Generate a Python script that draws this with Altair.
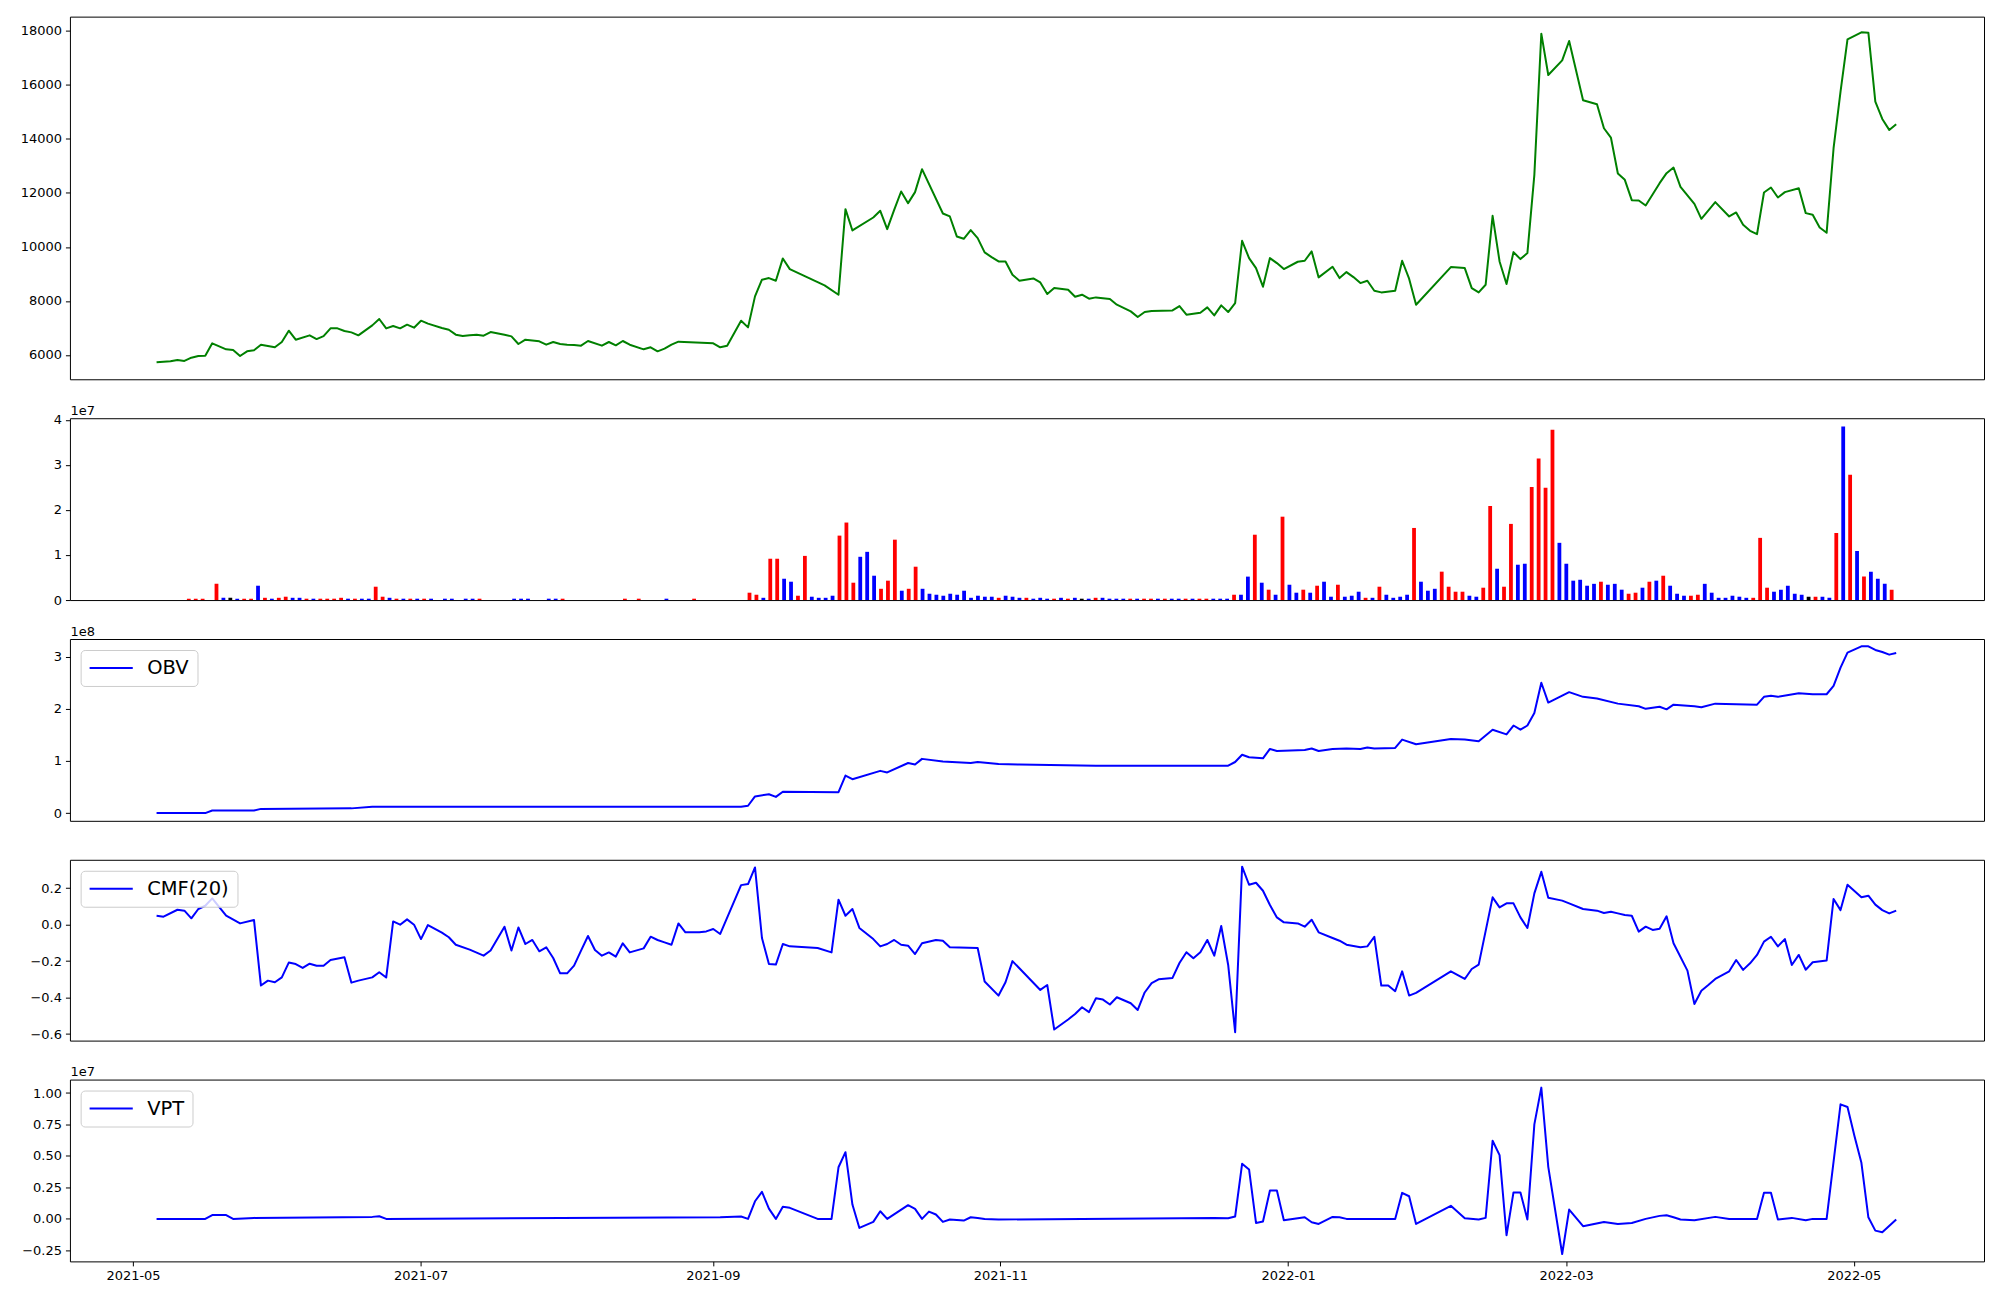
import altair as alt
import pandas as pd

# ---------------- data ----------------
N_SESSIONS = 251
dates = pd.date_range("2021-05-06", "2022-05-10", periods=N_SESSIONS)

# close price (session index, value)
price_points = [
    (0, 5730), (2, 5766), (3, 5815), (4, 5780), (5, 5900), (6, 5963), (7, 5975), (8, 6432),
    (10, 6210), (11, 6185), (12, 5963), (13, 6136), (14, 6173), (15, 6382), (17, 6284),
    (18, 6481), (19, 6900), (20, 6567), (22, 6727), (23, 6590), (24, 6700), (25, 6986),
    (26, 6986), (27, 6888), (28, 6838), (29, 6727), (31, 7097), (32, 7332), (33, 6986),
    (34, 7073), (35, 6986), (36, 7122), (37, 7011), (38, 7270), (39, 7160), (41, 6999),
    (42, 6937), (43, 6752), (44, 6703), (45, 6727), (46, 6752), (47, 6715), (48, 6850),
    (50, 6752), (51, 6690), (52, 6407), (53, 6567), (55, 6506), (56, 6382), (57, 6481),
    (58, 6407), (59, 6382), (60, 6370), (61, 6345), (62, 6518), (64, 6345), (65, 6481),
    (66, 6358), (67, 6518), (68, 6382), (70, 6210), (71, 6284), (72, 6136), (73, 6234),
    (74, 6382), (75, 6493), (80, 6432), (81, 6284), (82, 6345), (84, 7270), (85, 7023),
    (86, 8170), (87, 8787), (88, 8848), (89, 8750), (90, 9576), (91, 9181), (96, 8577),
    (98, 8232), (99, 11400), (100, 10611), (103, 11092), (104, 11339), (105, 10661),
    (106, 11376), (107, 12054), (108, 11623), (109, 12030), (110, 12880), (113, 11240),
    (114, 11130), (115, 10390), (116, 10303), (117, 10624), (118, 10328), (119, 9798),
    (120, 9625), (121, 9465), (122, 9465), (123, 8972), (124, 8750), (126, 8836),
    (127, 8688), (128, 8256), (129, 8478), (131, 8417), (132, 8158), (133, 8232),
    (134, 8084), (135, 8133), (137, 8071), (138, 7862), (140, 7615), (141, 7406),
    (142, 7591), (143, 7628), (146, 7652), (147, 7812), (148, 7492), (150, 7566),
    (151, 7763), (152, 7467), (153, 7837), (154, 7591), (155, 7924), (156, 10229),
    (157, 9588), (158, 9218), (159, 8528), (160, 9588), (161, 9403), (162, 9181),
    (164, 9453), (165, 9490), (166, 9835), (167, 8873), (169, 9267), (170, 8848),
    (171, 9070), (172, 8885), (173, 8663), (174, 8750), (175, 8380), (176, 8318),
    (178, 8380), (179, 9490), (180, 8824), (181, 7862), (186, 9255), (188, 9218),
    (189, 8478), (190, 8318), (191, 8602), (192, 11154), (193, 9465), (194, 8626),
    (195, 9810), (196, 9551), (197, 9773), (198, 12671), (199, 17898), (200, 16369),
    (202, 16911), (203, 17627), (205, 15432), (207, 15284), (208, 14397), (209, 14052),
    (210, 12720), (211, 12486), (212, 11733), (213, 11721), (214, 11536), (216, 12362),
    (217, 12732), (218, 12942), (219, 12227), (221, 11598), (222, 11043), (224, 11660),
    (226, 11129), (227, 11277), (228, 10821), (229, 10599), (230, 10475), (231, 12017),
    (232, 12202), (233, 11832), (234, 12030), (236, 12177), (237, 11253), (238, 11191),
    (239, 10722), (240, 10525), (241, 13657), (242, 15753), (243, 17688), (245, 17947),
    (246, 17935), (247, 15383), (248, 14742), (249, 14335), (250, 14544),
]

# volume in units of 1e7 (session index, value); r = up, b = down, k = unchanged
vol_idx_sparse = [4, 5, 6, 8, 9, 10, 11, 12, 13, 14,
                  15, 16, 17, 18, 19, 20, 21, 22, 23, 24,
                  25, 26, 27, 28, 29, 30, 31, 32, 33, 34,
                  35, 36, 37, 38, 39, 41, 42, 44, 45, 46,
                  51, 52, 53, 56, 57, 58, 67, 69, 73, 77]
vol_val_sparse = [0.03, 0.03, 0.03, 0.36, 0.05, 0.05, 0.03, 0.03, 0.03, 0.318,
                  0.05, 0.03, 0.05, 0.074, 0.05, 0.05, 0.03, 0.03, 0.03, 0.03,
                  0.03, 0.05, 0.03, 0.03, 0.03, 0.03, 0.296, 0.074, 0.05, 0.03,
                  0.03, 0.03, 0.03, 0.03, 0.03, 0.03, 0.03, 0.03, 0.03, 0.03,
                  0.03, 0.03, 0.03, 0.03, 0.03, 0.03, 0.03, 0.03, 0.03, 0.03]
vol_dir_sparse = "rrrrbkbrrb" "rbrrbbrbrr" "rrbrbbrrbr" "brbrbbbbbr" "bbbbbrrrbr"

vol_first_dense = 85
vol_val_dense = [
    0.163, 0.118, 0.05, 0.917, 0.917, 0.473, 0.407, 0.096, 0.98, 0.074,   # 85
    0.05, 0.05, 0.096, 1.43, 1.72, 0.385, 0.96, 1.07, 0.54, 0.25,         # 95
    0.43, 1.34, 0.207, 0.25, 0.74, 0.25, 0.14, 0.118, 0.096, 0.14,        # 105
    0.118, 0.207, 0.05, 0.096, 0.074, 0.074, 0.05, 0.096, 0.074, 0.05,    # 115
    0.05, 0.03, 0.05, 0.03, 0.03, 0.05, 0.03, 0.05, 0.03, 0.03,           # 125
    0.05, 0.05, 0.03, 0.03, 0.03, 0.03, 0.03, 0.03, 0.03, 0.03,           # 135
    0.03, 0.03, 0.03, 0.03, 0.03, 0.03, 0.03, 0.03, 0.03, 0.03,           # 145
    0.118, 0.118, 0.52, 1.45, 0.385, 0.23, 0.118, 1.85, 0.34, 0.163,      # 155
    0.23, 0.163, 0.318, 0.407, 0.074, 0.34, 0.074, 0.096, 0.185, 0.05,    # 165
    0.05, 0.296, 0.118, 0.05, 0.074, 0.118, 1.6, 0.407, 0.207, 0.25,      # 175
    0.63, 0.296, 0.185, 0.185, 0.096, 0.074, 0.274, 2.09, 0.695, 0.296,   # 185
    1.69, 0.784, 0.806, 2.51, 3.14, 2.49, 3.78, 1.27, 0.806, 0.43,        # 195
    0.45, 0.318, 0.36, 0.407, 0.34, 0.36, 0.23, 0.14, 0.163, 0.274,       # 205
    0.407, 0.43, 0.54, 0.318, 0.14, 0.096, 0.096, 0.118, 0.36, 0.163,     # 215
    0.05, 0.05, 0.096, 0.074, 0.05, 0.05, 1.38, 0.274, 0.185, 0.23,       # 225
    0.318, 0.14, 0.118, 0.074, 0.074, 0.074, 0.05, 1.49, 3.85, 2.78,      # 235
    1.09, 0.52, 0.63, 0.473, 0.36, 0.23,                                  # 245
]
vol_dir_dense = ("rrbrrbbrrb" "bbbrrrbbbr" "rrbrrbbbbb" "bbbbbbrbbb" "rbbbrbrbkb"
                 "rbbbbrbrrb" "rbbrbrrbbb" "rbbrbrbrbb" "rbrbbrbbbr" "brbbbbrbbb"
                 "rrrrbbrrbr" "rbbrrrrbbb" "bbbrbbbrrb" "rbrbbbrrbb" "bbbbbrrrbb"
                 "bbbkrbbrbr" "brbbbr")

# On-balance volume in units of 1e8
obv_points = [
    (0, 0.0), (7, 0.0), (8, 0.05), (14, 0.05), (15, 0.08), (28, 0.09), (31, 0.12), (84, 0.12),
    (85, 0.14), (86, 0.32), (88, 0.36), (89, 0.31), (90, 0.41), (98, 0.40), (99, 0.72),
    (100, 0.65), (104, 0.81), (105, 0.78), (108, 0.96), (109, 0.93), (110, 1.04), (113, 0.99),
    (117, 0.96), (118, 0.98), (121, 0.94), (124, 0.93), (135, 0.91), (154, 0.91), (155, 0.98),
    (156, 1.12), (157, 1.07), (159, 1.05), (160, 1.23), (161, 1.19), (165, 1.21), (166, 1.24),
    (167, 1.19), (169, 1.23), (171, 1.24), (173, 1.23), (174, 1.26), (175, 1.24), (178, 1.25),
    (179, 1.41), (181, 1.32), (186, 1.42), (188, 1.41), (190, 1.38), (192, 1.60), (194, 1.51),
    (195, 1.68), (196, 1.60), (197, 1.68), (198, 1.92), (199, 2.50), (200, 2.12), (203, 2.32),
    (205, 2.23), (207, 2.20), (210, 2.10), (213, 2.05), (214, 2.00), (216, 2.04), (217, 1.99),
    (218, 2.08), (221, 2.05), (222, 2.03), (224, 2.10), (227, 2.09), (230, 2.08), (231, 2.23),
    (232, 2.25), (233, 2.23), (236, 2.30), (238, 2.28), (240, 2.28), (241, 2.44), (242, 2.79),
    (243, 3.08), (245, 3.20), (246, 3.20), (247, 3.13), (248, 3.09), (249, 3.04), (250, 3.07),
]

# Chaikin money flow (20)
cmf_points = [
    (0, 0.049), (1, 0.044), (3, 0.082), (4, 0.077), (5, 0.035), (6, 0.086), (7, 0.104),
    (8, 0.144), (10, 0.049), (12, 0.007), (14, 0.026), (15, -0.334), (16, -0.307),
    (17, -0.316), (18, -0.289), (19, -0.208), (20, -0.216), (21, -0.237), (22, -0.214),
    (23, -0.225), (24, -0.225), (25, -0.194), (27, -0.179), (28, -0.318), (29, -0.307),
    (31, -0.289), (32, -0.261), (33, -0.29), (34, 0.018), (35, 0.0), (36, 0.029), (37, 0.0),
    (38, -0.079), (39, -0.002), (41, -0.044), (42, -0.069), (43, -0.11), (45, -0.137),
    (47, -0.17), (48, -0.142), (50, -0.011), (51, -0.142), (52, -0.015), (53, -0.106),
    (54, -0.084), (55, -0.146), (56, -0.124), (57, -0.183), (58, -0.267), (59, -0.267),
    (60, -0.225), (61, -0.142), (62, -0.062), (63, -0.139), (64, -0.17), (65, -0.152),
    (66, -0.175), (67, -0.102), (68, -0.152), (70, -0.13), (71, -0.066), (72, -0.084),
    (73, -0.097), (74, -0.11), (75, 0.007), (76, -0.042), (78, -0.042), (79, -0.037),
    (80, -0.024), (81, -0.051), (84, 0.217), (85, 0.223), (86, 0.314), (87, -0.073),
    (88, -0.216), (89, -0.219), (90, -0.106), (91, -0.119), (95, -0.128), (97, -0.152),
    (98, 0.137), (99, 0.049), (100, 0.086), (101, -0.018), (103, -0.079), (104, -0.119),
    (105, -0.106), (106, -0.084), (107, -0.11), (108, -0.115), (109, -0.161), (110, -0.102),
    (112, -0.084), (113, -0.088), (114, -0.124), (118, -0.128), (119, -0.312), (121, -0.389),
    (122, -0.316), (123, -0.2), (127, -0.358), (128, -0.331), (129, -0.575), (131, -0.52),
    (132, -0.49), (133, -0.453), (134, -0.48), (135, -0.404), (136, -0.411), (137, -0.438),
    (138, -0.398), (140, -0.431), (141, -0.468), (142, -0.372), (143, -0.321), (144, -0.3),
    (146, -0.292), (147, -0.21), (148, -0.151), (149, -0.184), (150, -0.151), (151, -0.084),
    (152, -0.17), (153, -0.007), (154, -0.221), (155, -0.59), (156, 0.318), (157, 0.219),
    (158, 0.23), (159, 0.186), (160, 0.108), (161, 0.04), (162, 0.013), (164, 0.007),
    (165, -0.011), (166, 0.027), (167, -0.042), (169, -0.073), (170, -0.088), (171, -0.11),
    (173, -0.124), (174, -0.119), (175, -0.066), (176, -0.334), (177, -0.334), (178, -0.365),
    (179, -0.256), (180, -0.389), (181, -0.374), (186, -0.256), (188, -0.298), (189, -0.243),
    (190, -0.219), (192, 0.15), (193, 0.095), (194, 0.117), (195, 0.117), (196, 0.04),
    (197, -0.018), (198, 0.172), (199, 0.29), (200, 0.148), (202, 0.132), (203, 0.117),
    (205, 0.086), (207, 0.077), (208, 0.064), (209, 0.071), (210, 0.062), (211, 0.053),
    (212, 0.049), (213, -0.038), (214, -0.011), (215, -0.029), (216, -0.022), (217, 0.046),
    (218, -0.102), (220, -0.252), (221, -0.435), (222, -0.362), (223, -0.331), (224, -0.298),
    (226, -0.256), (227, -0.194), (228, -0.248), (229, -0.212), (230, -0.166), (231, -0.093),
    (232, -0.066), (233, -0.119), (234, -0.079), (235, -0.221), (236, -0.166), (237, -0.247),
    (238, -0.206), (240, -0.197), (241, 0.141), (242, 0.08), (243, 0.219), (245, 0.15),
    (246, 0.159), (247, 0.11), (248, 0.08), (249, 0.062), (250, 0.077),
]

# Volume price trend in units of 1e7
vpt_points = [
    (0, 0.0), (7, 0.0), (8, 0.03), (10, 0.03), (11, 0.0), (14, 0.008), (31, 0.016), (32, 0.021),
    (33, 0.0), (81, 0.013), (84, 0.019), (85, 0.0), (86, 0.14), (87, 0.215), (88, 0.082),
    (89, 0.0), (90, 0.096), (91, 0.088), (95, 0.0), (97, 0.0), (98, 0.41), (99, 0.53),
    (100, 0.114), (101, -0.072), (103, -0.024), (104, 0.061), (105, 0.0), (108, 0.109),
    (109, 0.08), (110, 0.0), (111, 0.058), (112, 0.035), (113, -0.024), (114, -0.005),
    (116, -0.013), (117, 0.013), (118, 0.008), (119, 0.0), (121, -0.005), (152, 0.008),
    (154, 0.005), (155, 0.019), (156, 0.438), (157, 0.393), (158, -0.032), (159, -0.021),
    (160, 0.226), (161, 0.226), (162, -0.011), (165, 0.013), (166, -0.027), (167, -0.04),
    (169, 0.016), (170, 0.013), (171, 0.0), (175, 0.0), (178, 0.0), (179, 0.207), (180, 0.18),
    (181, -0.04), (186, 0.104), (188, 0.005), (190, -0.005), (191, 0.008), (192, 0.621),
    (193, 0.507), (194, -0.13), (195, 0.21), (196, 0.21), (197, -0.005), (198, 0.751),
    (199, 1.043), (200, 0.414), (202, -0.279), (203, 0.074), (205, -0.058), (208, -0.024),
    (210, -0.04), (212, -0.032), (214, 0.0), (216, 0.024), (217, 0.029), (218, 0.013),
    (219, -0.005), (221, -0.011), (224, 0.016), (226, 0.0), (230, 0.0), (231, 0.207),
    (232, 0.207), (233, -0.005), (235, 0.008), (237, -0.011), (238, 0.0), (240, 0.0),
    (242, 0.91), (243, 0.889), (244, 0.658), (245, 0.446), (246, 0.013), (247, -0.093),
    (248, -0.106), (250, -0.005),
]

month_ticks = [(2021, 5), (2021, 7), (2021, 9), (2021, 11), (2022, 1), (2022, 3), (2022, 5)]

# ---------------- tables ----------------
def line_df(points, name):
    idx = [p[0] for p in points]
    return pd.DataFrame({"date": dates[idx], "value": [p[1] for p in points], "series": name})

price_df = line_df(price_points, "Close")
obv_df = line_df(obv_points, "OBV")
cmf_df = line_df(cmf_points, "CMF(20)")
vpt_df = line_df(vpt_points, "VPT")

vol_idx = vol_idx_sparse + list(range(vol_first_dense, vol_first_dense + len(vol_val_dense)))
vol_df = pd.DataFrame({
    "date": dates[vol_idx],
    "value": vol_val_sparse + vol_val_dense,
    "dir": list(vol_dir_sparse) + list(vol_dir_dense),
})

# ---------------- styling ----------------
FONT = "DejaVu Sans"
GREEN, BLUE, RED = "#008000", "#0000ff", "#ff0000"
W = 1916
X_DOMAIN = [alt.DateTime(year=2021, month=4, date=17, hours=15),
            alt.DateTime(year=2022, month=5, date=28, hours=15)]


def x_enc(show):
    if show:
        ax = alt.Axis(values=[alt.DateTime(year=y, month=m, date=1) for y, m in month_ticks],
                      format="%Y-%m", title="", grid=False, domain=False, tickSize=4.5,
                      tickWidth=1, tickColor="black", labelFont=FONT, labelFontSize=13,
                      labelColor="black", labelPadding=4, labelFlush=False, labelOverlap=False)
        return alt.X("date:T", scale=alt.Scale(domain=X_DOMAIN), axis=ax)
    return alt.X("date:T", scale=alt.Scale(domain=X_DOMAIN), axis=None)


def y_axis(values, fmt, offset_text=""):
    kw = dict(values=values, format=fmt, title=offset_text, grid=False, domain=False,
              tickSize=4.5, tickWidth=1, tickColor="black", labelFont=FONT, labelFontSize=13,
              labelColor="black", labelPadding=4)
    if offset_text:
        kw.update(titleAngle=0, titleX=0, titleY=-4, titleAlign="left",
                  titleBaseline="alphabetic", titleFont=FONT, titleFontSize=13,
                  titleFontWeight="normal", titleColor="black")
    return alt.Axis(**kw)


def legend():
    # a wide, flat line sample drawn from a small nominal symbol size so the box stays short
    return alt.Legend(orient="none", legendX=10.7, legendY=11, title=None,
                      symbolType="M-2.4,0H2.4", symbolSize=324, symbolStrokeWidth=2,
                      symbolFillColor="transparent", symbolOffset=12.6,
                      labelFont=FONT, labelFontSize=19.5, labelColor="black",
                      labelOffset=26, padding=8, fillColor="rgba(255,255,255,0.8)",
                      strokeColor="#cccccc", cornerRadius=4)


def color_enc(name):
    return alt.Color("series:N", scale=alt.Scale(domain=[name], range=[BLUE]), legend=legend())


p1 = alt.Chart(price_df).mark_line(color=GREEN, strokeWidth=2, clip=True, strokeJoin="round").encode(
    x=x_enc(False),
    y=alt.Y("value:Q", scale=alt.Scale(domain=[5101, 18529], nice=False, zero=False),
            axis=y_axis(list(range(6000, 18001, 2000)), "d")),
).properties(width=W, height=363)

p2 = alt.Chart(vol_df).mark_bar(size=3.8, clip=True).encode(
    x=x_enc(False),
    y=alt.Y("value:Q", scale=alt.Scale(domain=[0, 4.035], nice=False),
            axis=y_axis([0, 1, 2, 3, 4], "d", "1e7"), stack=False),
    color=alt.Color("dir:N", scale=alt.Scale(domain=["r", "b", "k"], range=[RED, BLUE, "#000000"]),
                    legend=None),
).properties(width=W, height=182)

p3 = alt.Chart(obv_df).mark_line(strokeWidth=2, clip=True, strokeJoin="round").encode(
    x=x_enc(False),
    y=alt.Y("value:Q", scale=alt.Scale(domain=[-0.149, 3.34], nice=False, zero=False),
            axis=y_axis([0, 1, 2, 3], "d", "1e8")),
    color=color_enc("OBV"),
).properties(width=W, height=182)

p4 = alt.Chart(cmf_df).mark_line(strokeWidth=2, clip=True, strokeJoin="round").encode(
    x=x_enc(False),
    y=alt.Y("value:Q", scale=alt.Scale(domain=[-0.636, 0.356], nice=False, zero=False),
            axis=y_axis([-0.6, -0.4, -0.2, 0.0, 0.2], ".1f")),
    color=color_enc("CMF(20)"),
).properties(width=W, height=181)

p5 = alt.Chart(vpt_df).mark_line(strokeWidth=2, clip=True, strokeJoin="round").encode(
    x=x_enc(True),
    y=alt.Y("value:Q", scale=alt.Scale(domain=[-0.3376, 1.107], nice=False, zero=False),
            axis=y_axis([-0.25, 0.0, 0.25, 0.5, 0.75, 1.0], ".2f", "1e7")),
    color=color_enc("VPT"),
).properties(width=W, height=182)

chart = alt.vconcat(p1, p2, p3, p4, p5, spacing=39, bounds="flush").resolve_scale(
    color="independent"
).properties(
    padding={"left": 11, "top": 7, "right": 7, "bottom": 8},
    background="white",
).configure_view(stroke="black", strokeWidth=1)

chart.save("out.html", embed_options={"renderer": "svg", "actions": False})
